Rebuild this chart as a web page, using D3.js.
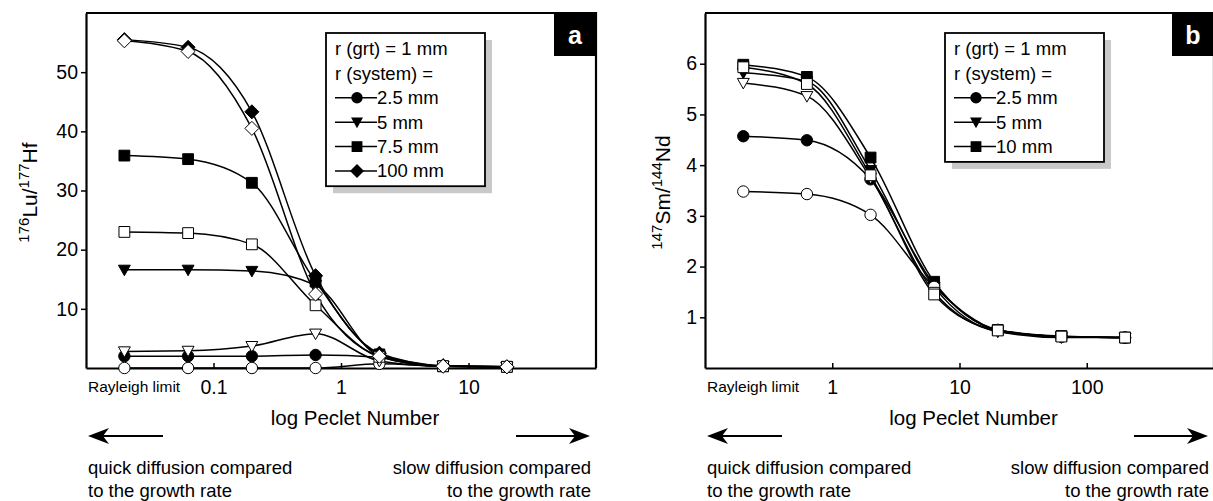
<!DOCTYPE html>
<html>
<head>
<meta charset="utf-8">
<script src="https://cdn.jsdelivr.net/npm/d3@7"></script>
<style>
  html, body { margin: 0; padding: 0; background: #fff; }
  svg { display: block; }
  text { font-family: "Liberation Sans", Arial, Helvetica, sans-serif; fill: #000; }
</style>
</head>
<body>
<svg id="chart" width="1213" height="501"></svg>
<script>
// ---- Panel a: 176Lu/177Hf versus Peclet number ----
const peA = [0.02, 0.0632, 0.2, 0.632, 2, 6.32, 20];
const luHf_2_5mm   = [2.0, 2.0, 2.0, 2.2, 1.8, 0.3, 0.2];
const luHf_5mm     = [16.6, 16.6, 16.4, 14.0, 2.0, 0.3, 0.2];
const luHf_7_5mm   = [35.9, 35.3, 31.3, 14.6, 2.3, 0.3, 0.2];
const luHf_100mm   = [55.5, 54.2, 43.3, 15.6, 2.5, 0.4, 0.2];
const luHf_2_5mmB  = [0.0, 0.0, 0.0, 0.0, 0.7, 0.3, 0.2];
const luHf_5mmB    = [2.8, 2.9, 3.7, 5.8, 1.2, 0.3, 0.2];
const luHf_7_5mmB  = [23.0, 22.8, 20.9, 10.6, 1.9, 0.3, 0.2];
const luHf_100mmB  = [55.3, 53.5, 40.5, 12.5, 2.0, 0.3, 0.2];
const ticksA = [0.1, 1, 10];
const yTicksA = [10, 20, 30, 40, 50];
const legendA = ["2.5 mm", "5 mm", "7.5 mm", "100 mm"];

// ---- Panel b: 147Sm/144Nd versus Peclet number ----
const peB = [0.2, 0.632, 2, 6.32, 20, 63.2, 200];
const smNd_2_5mm  = [4.57, 4.49, 3.72, 1.65, 0.75, 0.62, 0.6];
const smNd_5mm    = [5.82, 5.65, 3.9, 1.6, 0.72, 0.62, 0.6];
const smNd_10mm   = [5.98, 5.74, 4.15, 1.7, 0.75, 0.63, 0.6];
const smNd_2_5mmB = [3.48, 3.43, 3.02, 1.6, 0.75, 0.62, 0.6];
const smNd_5mmB   = [5.62, 5.36, 3.75, 1.5, 0.72, 0.6, 0.6];
const smNd_10mmB  = [5.93, 5.6, 3.8, 1.45, 0.74, 0.62, 0.6];
const ticksB = [1, 10, 100];
const yTicksB = [1, 2, 3, 4, 5, 6];
const legendB = ["2.5 mm", "5 mm", "10 mm"];

const svg = d3.select("#chart");
const FONT = '"Liberation Sans", Arial, Helvetica, sans-serif';

// marker path generators, centred on 0,0
const shapes = {
  circle: r => `M${r},0A${r},${r} 0 1,1 ${-r},0A${r},${r} 0 1,1 ${r},0Z`,
  square: r => `M${-r},${-r}H${r}V${r}H${-r}Z`,
  diamond: r => `M0,${-r * 1.3}L${r * 1.3},0L0,${r * 1.3}L${-r * 1.3},0Z`,
  triangle: r => `M${-r * 1.1},${-r * 0.85}L${r * 1.1},${-r * 0.85}L0,${r * 1.1}Z`
};

function drawPanel(cfg) {
  const g = svg.append("g");
  const x = d3.scaleLog().domain(cfg.xDomain).range([cfg.left, cfg.right]);
  const y = d3.scaleLinear().domain(cfg.yDomain).range([cfg.bottom, cfg.top]);

  // series lines
  const line = d3.line()
    .x(d => x(d[0])).y(d => y(d[1]))
    .curve(d3.curveMonotoneX);
  cfg.series.forEach(s => {
    g.append("path")
      .datum(cfg.pe.map((p, i) => [p, s.values[i]]))
      .attr("d", line)
      .attr("fill", "none")
      .attr("stroke", "#000")
      .attr("stroke-width", 1.5);
  });

  // axes
  const yAxis = d3.axisLeft(y).tickValues(cfg.yTicks).tickSize(5).tickSizeOuter(0)
    .tickPadding(3).tickFormat(d3.format("d"));
  const ya = g.append("g").attr("transform", `translate(${cfg.left},0)`).call(yAxis);
  ya.select(".domain").attr("stroke-width", 2.2);
  ya.selectAll(".tick line").attr("stroke-width", 1.5);
  ya.selectAll(".tick text").attr("font-family", FONT).attr("font-size", 19.5).attr("fill", "#000");

  const xAxis = d3.axisBottom(x).tickValues(cfg.xTicks).tickSize(-5).tickSizeOuter(0)
    .tickFormat(d => String(d)).tickPadding(12);
  const xa = g.append("g").attr("transform", `translate(0,${cfg.bottom})`).call(xAxis);
  xa.select(".domain").attr("stroke-width", 2.2);
  xa.selectAll(".tick line").attr("stroke-width", 1.5);
  xa.selectAll(".tick text").attr("font-family", FONT).attr("font-size", 19.5).attr("fill", "#000");

  // frame: top and right
  g.append("path")
    .attr("d", `M${cfg.left},${cfg.top}H${cfg.right}V${cfg.bottom}`)
    .attr("fill", "none").attr("stroke", "#000").attr("stroke-width", 2.2);

  // markers: filled first, hollow on top
  const ordered = cfg.series.filter(s => s.filled).concat(cfg.series.filter(s => !s.filled));
  ordered.forEach(s => {
    g.selectAll(null)
      .data(cfg.pe.map((p, i) => [p, s.values[i]]))
      .join("path")
      .attr("transform", d => `translate(${x(d[0])},${y(d[1])})`)
      .attr("d", shapes[s.shape](s.shape === "circle" ? 5.7 : 5.4))
      .attr("fill", s.filled ? "#000" : "#fff")
      .attr("stroke", "#000")
      .attr("stroke-width", 1);
  });

  // panel letter
  g.append("rect")
    .attr("x", cfg.right - 42).attr("y", cfg.top)
    .attr("width", 42).attr("height", 43).attr("fill", "#000");
  g.append("text")
    .attr("x", cfg.right - 21).attr("y", cfg.top + 31)
    .attr("text-anchor", "middle").attr("font-weight", "bold")
    .attr("font-size", 25).attr("fill", "#fff").style("fill", "#fff")
    .text(cfg.letter);

  // legend with drop shadow
  const lx = cfg.left + 240, ly = 33, lw = 159;
  const lh = 56 + cfg.legend.length * 24.3;
  g.append("rect").attr("x", lx + 7).attr("y", ly + 7).attr("width", lw).attr("height", lh).attr("fill", "#c9c9c9");
  g.append("rect").attr("x", lx).attr("y", ly).attr("width", lw).attr("height", lh)
    .attr("fill", "#fff").attr("stroke", "#000").attr("stroke-width", 1.8);
  const rowY = i => ly + 16 + i * 24.4;
  const head = ["r (grt) = 1 mm", "r (system) ="];
  head.forEach((t, i) => {
    g.append("text").attr("x", lx + 9).attr("y", rowY(i)).attr("dy", "0.35em")
      .attr("font-size", 18.5).text(t);
  });
  const legendShapes = ["circle", "triangle", "square", "diamond"];
  cfg.legend.forEach((t, i) => {
    const cy = rowY(i + 2);
    g.append("line").attr("x1", lx + 9).attr("x2", lx + 51).attr("y1", cy).attr("y2", cy)
      .attr("stroke", "#000").attr("stroke-width", 1.5);
    g.append("path").attr("transform", `translate(${lx + 31},${cy})`)
      .attr("d", shapes[legendShapes[i]](legendShapes[i] === "circle" ? 5.7 : 5.4))
      .attr("fill", "#000");
    g.append("text").attr("x", lx + 51).attr("y", cy).attr("dy", "0.35em")
      .attr("font-size", 18.5).text(t);
  });

  // y-axis title with superscript mass numbers
  const yt = g.append("text")
    .attr("transform", `translate(${cfg.yTitleX},${(cfg.top + cfg.bottom) / 2 + 2}) rotate(-90)`)
    .attr("text-anchor", "middle").attr("font-size", 21);
  yt.append("tspan").attr("font-size", 15).attr("dy", -8).text(cfg.yTitle[0]);
  yt.append("tspan").attr("dy", 8).text(cfg.yTitle[1]);
  yt.append("tspan").attr("font-size", 15).attr("dy", -8).text(cfg.yTitle[2]);
  yt.append("tspan").attr("dy", 8).text(cfg.yTitle[3]);

  // x-axis annotations
  g.append("text").attr("x", cfg.left + 2).attr("y", cfg.bottom + 24)
    .attr("font-size", 15.5).text("Rayleigh limit");
  g.append("text").attr("x", (cfg.left + cfg.right) / 2 + 14).attr("y", cfg.bottom + 57)
    .attr("text-anchor", "middle").attr("font-size", 20.5).text("log Peclet Number");

  // direction arrows
  const ay = 436;
  const arrow = (x1, x2) => {
    const dir = Math.sign(x2 - x1);
    g.append("line").attr("x1", x1).attr("x2", x2 - dir * 14).attr("y1", ay).attr("y2", ay)
      .attr("stroke", "#000").attr("stroke-width", 2);
    g.append("path")
      .attr("d", `M${x2},${ay}L${x2 - dir * 21},${ay - 8}L${x2 - dir * 15},${ay}L${x2 - dir * 21},${ay + 8}Z`)
      .attr("fill", "#000");
  };
  arrow(cfg.left + 77, cfg.left + 2);
  arrow(cfg.right - 80, cfg.right - 6);

  const note = (tx, anchor, lines) => lines.forEach((t, i) => {
    g.append("text").attr("x", tx).attr("y", 474 + i * 23)
      .attr("text-anchor", anchor).attr("font-size", 18.5).text(t);
  });
  note(cfg.left + 2, "start", ["quick diffusion compared", "to the growth rate"]);
  note(cfg.right - 5, "end", ["slow diffusion compared", "to the growth rate"]);
}

drawPanel({
  left: 86, right: 596, top: 13, bottom: 368,
  xDomain: [0.01, 100], yDomain: [0, 60],
  xTicks: ticksA, yTicks: yTicksA, pe: peA,
  letter: "a", legend: legendA, yTitleX: 37,
  yTitle: ["176", "Lu/", "177", "Hf"],
  series: [
    { values: luHf_2_5mm,  shape: "circle",   filled: true },
    { values: luHf_5mm,    shape: "triangle", filled: true },
    { values: luHf_7_5mm,  shape: "square",   filled: true },
    { values: luHf_100mm,  shape: "diamond",  filled: true },
    { values: luHf_2_5mmB, shape: "circle",   filled: false },
    { values: luHf_5mmB,   shape: "triangle", filled: false },
    { values: luHf_7_5mmB, shape: "square",   filled: false },
    { values: luHf_100mmB, shape: "diamond",  filled: false }
  ]
});

drawPanel({
  left: 705, right: 1214, top: 13, bottom: 368,
  xDomain: [0.1, 1000], yDomain: [0, 7],
  xTicks: ticksB, yTicks: yTicksB, pe: peB,
  letter: "b", legend: legendB, yTitleX: 670,
  yTitle: ["147", "Sm/", "144", "Nd"],
  series: [
    { values: smNd_2_5mm,  shape: "circle",   filled: true },
    { values: smNd_5mm,    shape: "triangle", filled: true },
    { values: smNd_10mm,   shape: "square",   filled: true },
    { values: smNd_2_5mmB, shape: "circle",   filled: false },
    { values: smNd_5mmB,   shape: "triangle", filled: false },
    { values: smNd_10mmB,  shape: "square",   filled: false }
  ]
});
</script>
</body>
</html>
